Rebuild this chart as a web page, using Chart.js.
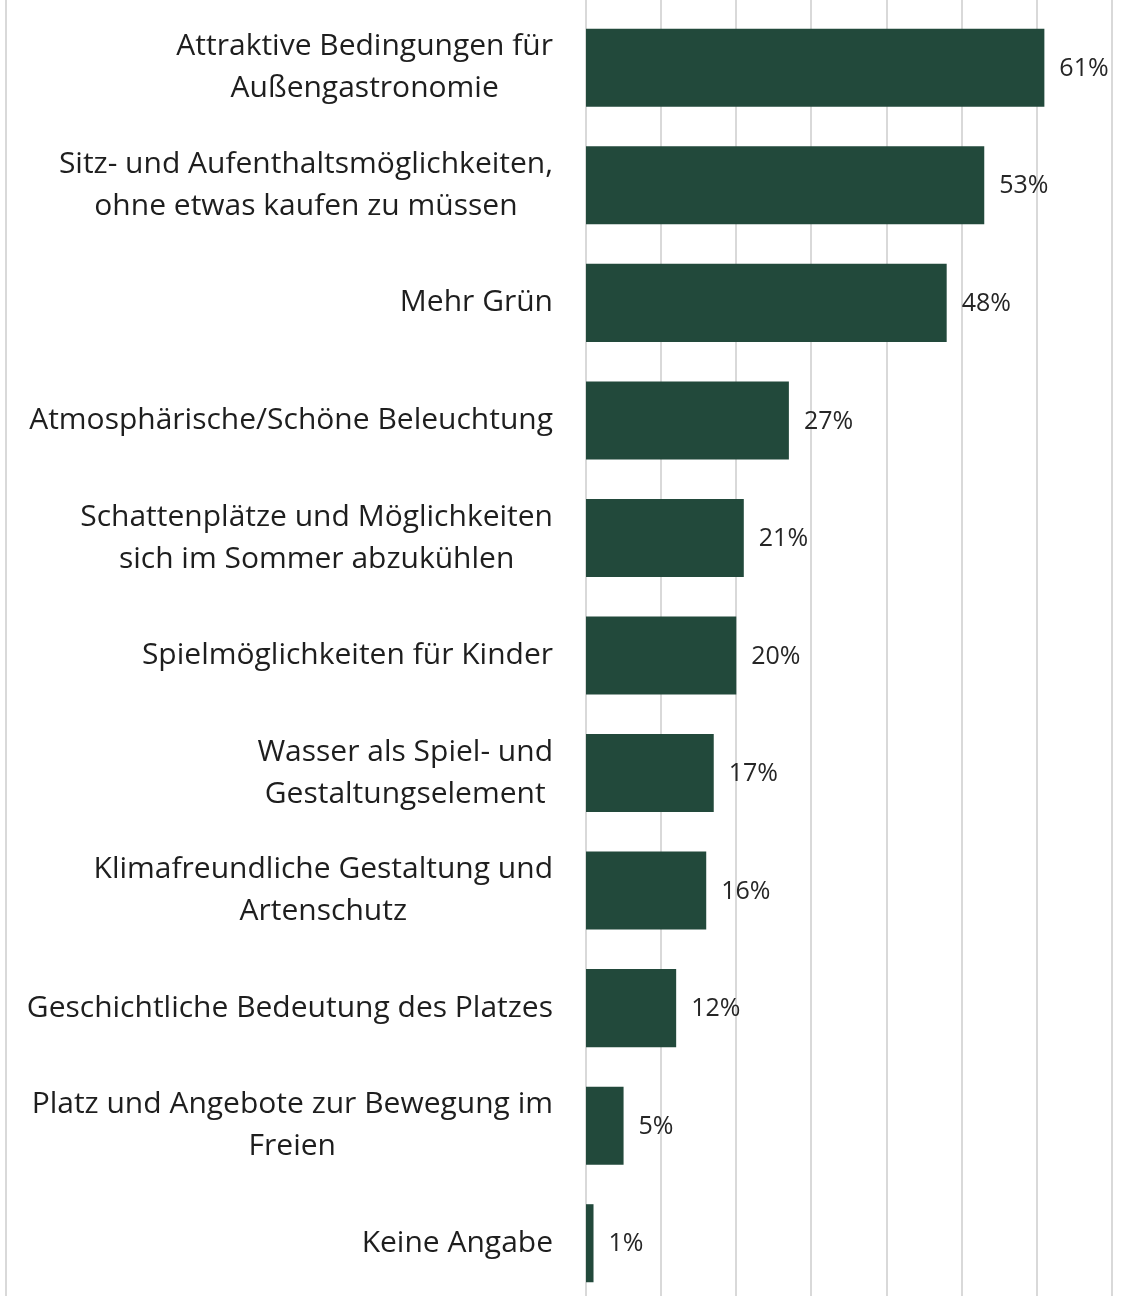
<!DOCTYPE html>
<html>
<head>
<meta charset="utf-8">
<script src="https://cdn.jsdelivr.net/npm/chart.js@4.4.1/dist/chart.umd.min.js"></script>
<style>
  html, body { margin: 0; padding: 0; background: #fff; overflow: hidden; }
  #wrap { position: relative; width: 1134px; height: 1304px; }
</style>
</head>
<body>
<div id="wrap"><canvas id="c" width="1134" height="1304"></canvas></div>
<script>
const categories = [
  ["Attraktive Bedingungen für", "Außengastronomie"],
  ["Sitz- und Aufenthaltsmöglichkeiten,", "ohne etwas kaufen zu müssen"],
  "Mehr Grün",
  "Atmosphärische/Schöne Beleuchtung",
  ["Schattenplätze und Möglichkeiten", "sich im Sommer abzukühlen"],
  "Spielmöglichkeiten für Kinder",
  ["Wasser als Spiel- und", "Gestaltungselement"],
  ["Klimafreundliche Gestaltung und", "Artenschutz"],
  "Geschichtliche Bedeutung des Platzes",
  ["Platz und Angebote zur Bewegung im", "Freien"],
  "Keine Angabe"
];
const values = [61, 53, 48, 27, 21, 20, 17, 16, 12, 5, 1];
const xTicks = [0, 10, 20, 30, 40, 50, 60, 70];

const FONT = "'Open Sans', Lato, sans-serif";

const gridPlugin = {
  id: 'fullGrid',
  beforeDatasetsDraw(chart) {
    const ctx = chart.ctx;
    const xs = chart.scales.x;
    ctx.save();
    ctx.strokeStyle = '#d9d9d9';
    ctx.lineWidth = 2;
    xTicks.forEach(v => {
      const px = Math.round(xs.getPixelForValue(v));
      ctx.beginPath();
      ctx.moveTo(px, 0);
      ctx.lineTo(px, chart.height);
      ctx.stroke();
    });
    ctx.beginPath();
    ctx.moveTo(6, 0);
    ctx.lineTo(6, chart.height);
    ctx.stroke();
    ctx.restore();
  }
};

// category labels: block right-aligned to the axis, lines centred within the block
const categoryLabels = {
  id: 'categoryLabels',
  afterDraw(chart) {
    const ctx = chart.ctx;
    const ys = chart.scales.y;
    const rightEdge = chart.chartArea.left - 33;
    const lineH = 42;
    ctx.save();
    ctx.fillStyle = '#1e1e1e';
    ctx.font = "30px " + FONT;
    ctx.textAlign = 'center';
    ctx.textBaseline = 'middle';
    categories.forEach((lab, i) => {
      const lines = Array.isArray(lab) ? lab : [lab];
      const maxW = Math.max(...lines.map(l => ctx.measureText(l).width));
      const cx = rightEdge - maxW / 2;
      const cy = ys.getPixelForValue(i);
      lines.forEach((l, j) => {
        const y = cy + (j - (lines.length - 1) / 2) * lineH;
        ctx.fillText(l, cx, y);
      });
    });
    ctx.restore();
  }
};

const valueLabels = {
  id: 'valueLabels',
  afterDatasetsDraw(chart) {
    const ctx = chart.ctx;
    const meta = chart.getDatasetMeta(0);
    ctx.save();
    ctx.fillStyle = '#262626';
    ctx.font = "25px " + FONT;
    ctx.textAlign = 'left';
    ctx.textBaseline = 'middle';
    meta.data.forEach((bar, i) => {
      ctx.fillText(values[i] + '%', bar.x + 15, bar.y + 1);
    });
    ctx.restore();
  }
};

new Chart(document.getElementById('c'), {
  type: 'bar',
  data: {
    labels: categories,
    datasets: [{
      data: values,
      backgroundColor: '#22493b',
      borderWidth: 0,
      barPercentage: 0.664,
      categoryPercentage: 1.0
    }]
  },
  options: {
    indexAxis: 'y',
    responsive: false,
    animation: false,
    layout: { padding: { top: 9, right: 22, bottom: 2, left: 0 } },
    plugins: { legend: { display: false }, tooltip: { enabled: false } },
    scales: {
      x: {
        display: false,
        min: 0,
        max: 70,
        ticks: { stepSize: 10 }
      },
      y: {
        grid: { display: false, drawTicks: false },
        border: { display: false },
        afterFit(scale) { scale.width = 586; scale.paddingTop = 0; scale.paddingBottom = 0; },
        ticks: { display: false }
      }
    }
  },
  plugins: [gridPlugin, valueLabels, categoryLabels]
});
</script>
</body>
</html>
